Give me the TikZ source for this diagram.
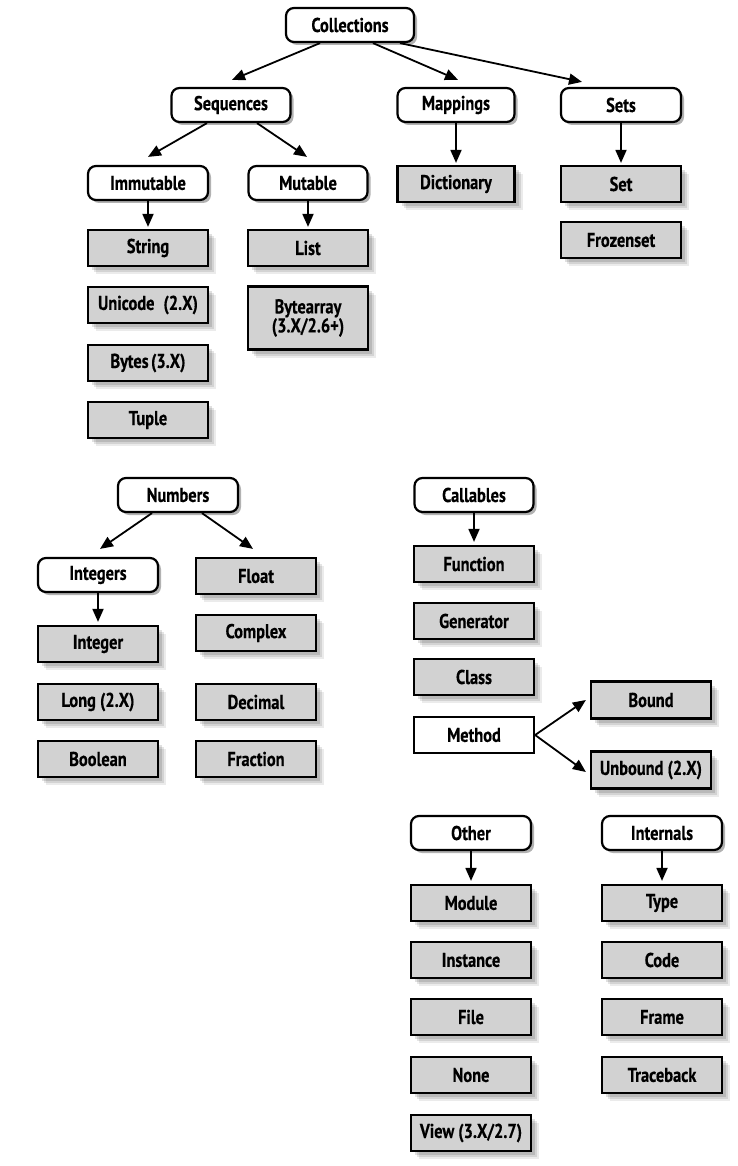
\documentclass[tikz,border=0pt]{standalone}
\usepackage{fontspec}
\setmainfont{PT Sans}
\newfontfamily\boxfont{PT Sans Bold}[FakeStretch=0.82, FakeBold=0.4]
\usetikzlibrary{arrows.meta,shadows}
\definecolor{leafgray}{HTML}{D2D2D2}
\tikzset{
  base/.style={draw=black, line width=2.2pt, font=\boxfont\fontsize{20}{21}\selectfont, align=center, inner sep=0pt},
  catshadow/.style={drop shadow={shadow xshift=3pt, shadow yshift=-3pt, fill=black, opacity=0.3}},
  leafshadow/.style={
    drop shadow={shadow xshift=8pt, shadow yshift=-8pt, fill=black, opacity=0.08},
    drop shadow={shadow xshift=6pt, shadow yshift=-6pt, fill=black, opacity=0.1},
    drop shadow={shadow xshift=4pt, shadow yshift=-4pt, fill=black, opacity=0.12}},
  cat/.style={base, rounded corners=8pt, fill=white, minimum width=119pt, minimum height=34pt, catshadow},
  leaf/.style={base, fill=leafgray, minimum width=120pt, minimum height=36pt, leafshadow},
  plainbox/.style={base, fill=white, minimum width=120pt, minimum height=36pt},
  arr/.style={line width=1.8pt, -{Triangle[length=13pt,width=11pt]}},
}
\begin{document}
\begin{tikzpicture}[x=1pt,y=-1pt]
\useasboundingbox[fill=white] (0,0) rectangle (737,1166);
% top tree
\node[cat, minimum width=128pt] (coll) at (350,25) {Collections};
\node[cat] (seq) at (231,105) {Sequences};
\node[cat, minimum width=117pt] (map) at (456,105) {Mappings};
\node[cat, minimum width=120pt] (sets) at (621,105) {Sets};
\node[cat, minimum width=120pt] (imm) at (148,183) {Immutable};
\node[cat] (mut) at (308,183) {Mutable};
\node[leaf, minimum width=117pt] (dict) at (456,184) {Dictionary};
\node[leaf] (set) at (621,184) {Set};
\node[leaf] (frozen) at (621,240) {Frozenset};
\node[leaf] (string) at (148,248) {String};
\node[leaf] (list) at (308,248) {List};
\node[leaf] (unicode) at (148,305) {Unicode\hspace{0.45em}(2.X)};
\node[leaf, minimum height=63pt] (bytearray) at (308,318) {Bytearray\\[-2pt](3.X/2.6+)};
\node[leaf] (bytes) at (148,363) {Bytes\hspace{0.12em}(3.X)};
\node[leaf] (tuple) at (148,420) {Tuple};
% numbers
\node[cat, minimum width=120pt] (numbers) at (178,495) {Numbers};
\node[cat, minimum width=120pt] (integers) at (98,575) {Integers};
\node[leaf] (float) at (256,576) {Float};
\node[leaf] (integer) at (98,644) {Integer};
\node[leaf] (complex) at (256,633) {Complex};
\node[leaf] (long) at (98,702) {Long (2.X)};
\node[leaf] (decimal) at (256,702) {Decimal};
\node[leaf] (boolean) at (98,759) {Boolean};
\node[leaf] (fraction) at (256,759) {Fraction};
% callables
\node[cat] (callables) at (474,495) {Callables};
\node[leaf] (function) at (474,564) {Function};
\node[leaf] (generator) at (474,621) {Generator};
\node[leaf] (class) at (474,677) {Class};
\node[plainbox] (method) at (474,735) {Method};
\node[leaf, minimum height=37pt] (bound) at (651,700) {Bound};
\node[leaf, minimum height=37pt] (unbound) at (651,770) {Unbound (2.X)};
% other / internals
\node[cat, minimum width=120pt] (other) at (471,833) {Other};
\node[cat, minimum width=120pt] (internals) at (662,833) {Internals};
\node[leaf] (module) at (471,903) {Module};
\node[leaf] (instance) at (471,960) {Instance};
\node[leaf] (file) at (471,1017) {File};
\node[leaf] (none) at (471,1075) {None};
\node[leaf] (view) at (471,1133) {View\hspace{0.2em}(3.X/2.7)};
\node[leaf] (type) at (662,903) {Type};
\node[leaf] (code) at (662,960) {Code};
\node[leaf] (frame) at (662,1017) {Frame};
\node[leaf] (traceback) at (662,1075) {Traceback};
% connectors
\draw[arr] ([xshift=-30pt]coll.south) -- ([xshift=1pt,yshift=7pt]seq.north);
\draw[arr] ([xshift=23pt]coll.south) -- ([xshift=2pt,yshift=7pt]map.north);
\draw[arr] ([xshift=50pt]coll.south) -- ([xshift=-39pt,yshift=5pt]sets.north);
\draw[arr] ([xshift=-24pt]seq.south) -- ([xshift=0pt,yshift=8pt]imm.north);
\draw[arr] ([xshift=26pt]seq.south) -- ([xshift=-1pt,yshift=8pt]mut.north);
\draw[arr] (imm.south) -- ([yshift=2pt]string.north);
\draw[arr] (mut.south) -- ([yshift=2pt]list.north);
\draw[arr] (map.south) -- ([yshift=2pt]dict.north);
\draw[arr] (sets.south) -- ([yshift=2pt]set.north);
\draw[arr] ([xshift=-26pt]numbers.south) -- ([xshift=2pt,yshift=8pt]integers.north);
\draw[arr] ([xshift=24pt]numbers.south) -- ([xshift=-3pt,yshift=8pt]float.north);
\draw[arr] (integers.south) -- ([yshift=3pt]integer.north);
\draw[arr] (callables.south) -- ([yshift=3pt]function.north);
\draw[arr] (method.east) -- ([xshift=-4pt]bound.west);
\draw[arr] (method.east) -- ([xshift=-4pt,yshift=-2pt]unbound.west);
\draw[arr] (other.south) -- ([yshift=3pt]module.north);
\draw[arr] (internals.south) -- ([yshift=3pt]type.north);
\end{tikzpicture}
\end{document}
